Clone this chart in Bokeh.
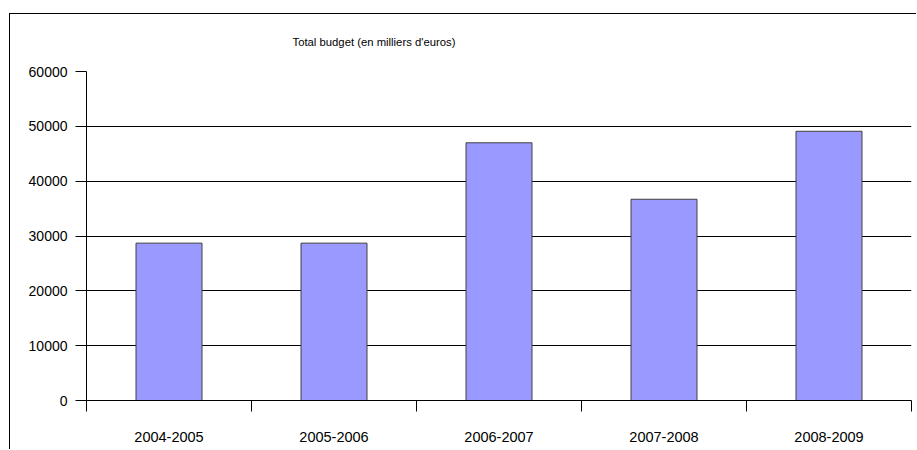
from bokeh.plotting import figure
from bokeh.models import FixedTicker, Range1d, ColumnDataSource
from bokeh.embed import file_html
from bokeh.resources import INLINE

years = ["2004-2005", "2005-2006", "2006-2007", "2007-2008", "2008-2009"]
budget = [28700, 28700, 47000, 36700, 49100]
y_ticks = [0, 10000, 20000, 30000, 40000, 50000, 60000]
title_text = "Total budget (en milliers d'euros)"

FONT = "Liberation Sans"

pos = [i + 0.5 for i in range(len(years))]
src = ColumnDataSource(data=dict(x=pos, top=budget, label=years))

p = figure(width=907, height=436, output_backend="svg", toolbar_location=None,
           x_range=Range1d(0, len(years)), y_range=Range1d(0, 60000),
           min_border_left=76, min_border_right=6, min_border_top=56, min_border_bottom=50)
p.styles = {"margin-top": "13px", "margin-left": "9px",
            "border-left": "1px solid #000000", "border-top": "1px solid #000000"}

p.outline_line_color = None
p.background_fill_color = "white"
p.border_fill_color = "white"

p.vbar(x="x", top="top", width=0.4, source=src, fill_color="#9999FF",
       line_color="#404040", line_width=1)

p.title.text = title_text
p.title.align = "left"
p.title.offset = 206
p.title.text_font = FONT
p.title.text_font_size = "11.3px"
p.title.text_font_style = "normal"
p.title.text_color = "#000000"
p.title.standoff = 43
p.title.vertical_align = "top"

# x axis: labels at centres, ticks at category boundaries
xa = p.xaxis[0]
xa.ticker = FixedTicker(ticks=pos, minor_ticks=list(range(len(years) + 1)))
xa.major_label_overrides = {pv: lab for pv, lab in zip(pos, years)}
xa.major_tick_out = 0
xa.major_tick_in = 0
xa.minor_tick_out = 11
xa.minor_tick_in = 0
xa.minor_tick_line_color = "#000000"
xa.axis_line_color = "#000000"
xa.major_label_text_font = FONT
xa.major_label_text_font_size = "14.5px"
xa.major_label_text_color = "#000000"
xa.major_label_standoff = 20

ya = p.yaxis[0]
ya.ticker = FixedTicker(ticks=y_ticks, minor_ticks=[])
ya.major_tick_out = 11
ya.major_tick_in = 0
ya.minor_tick_line_color = None
ya.axis_line_color = "#000000"
ya.major_tick_line_color = "#000000"
ya.major_label_text_font = FONT
ya.major_label_text_font_size = "14px"
ya.major_label_text_color = "#000000"
ya.major_label_standoff = 8

p.xgrid.grid_line_color = None
p.ygrid.grid_line_color = "#000000"
p.ygrid.grid_line_width = 1
p.ygrid.ticker = FixedTicker(ticks=y_ticks)

open("out.html", "w").write(file_html(p, INLINE))
